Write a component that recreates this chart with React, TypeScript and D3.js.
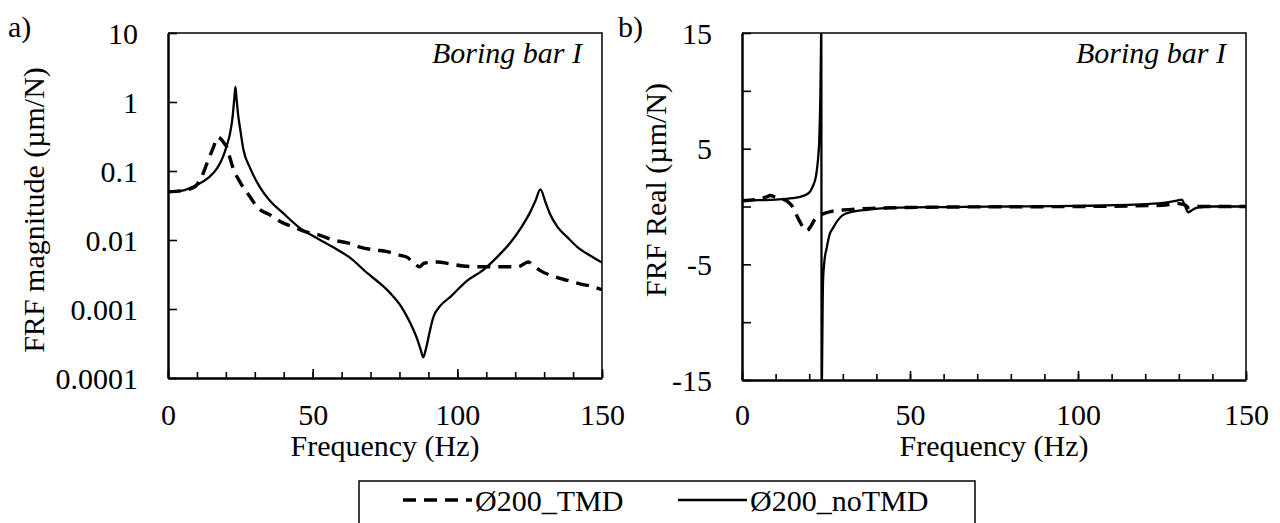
import React, { useEffect, useRef } from "react";
import * as d3 from "d3";

// a) FRF magnitude (µm/N)
const magTmdFreq = [0, 5, 9, 11.5, 13.5, 15.5, 17.3, 18.3, 19.5, 20.4, 21.5, 22.5, 25, 28.4, 30.8, 35.3, 39.4, 43.3, 48, 52.6, 57, 62, 66.4, 71, 75.8, 80.3, 82.7, 84.8, 87, 88.5, 93, 97.6, 102, 107, 111, 116, 121, 124.5, 126.5, 128.7, 133, 138, 142.6, 147, 150];
const magTmd = [0.05, 0.052, 0.058, 0.08, 0.13, 0.21, 0.31, 0.29, 0.25, 0.22, 0.15, 0.11, 0.068, 0.042, 0.03, 0.023, 0.018, 0.0155, 0.013, 0.0117, 0.01, 0.0091, 0.0079, 0.0072, 0.0068, 0.006, 0.0056, 0.0047, 0.0041, 0.0046, 0.0048, 0.0045, 0.0042, 0.0041, 0.0041, 0.0041, 0.0041, 0.0048, 0.0042, 0.0036, 0.003, 0.0026, 0.0023, 0.0021, 0.0019];

const magNoFreq = [0, 5, 10, 14, 17, 19, 20.4, 21.5, 22.3, 22.9, 23.3, 23.7, 24.3, 24.9, 26, 28.4, 31.8, 35, 39.8, 46, 50, 57, 63, 68.9, 73, 76.8, 80.5, 83.7, 86, 87.3, 88.2, 89.2, 90.5, 91.7, 94, 97.6, 103, 109, 114, 118.3, 122, 125, 127, 128.7, 130.5, 132, 134.6, 138, 141.5, 146, 150];
const magNo = [0.05, 0.052, 0.063, 0.08, 0.11, 0.16, 0.24, 0.36, 0.6, 1.1, 1.65, 1.1, 0.62, 0.42, 0.21, 0.11, 0.058, 0.038, 0.0245, 0.0145, 0.0115, 0.0079, 0.0055, 0.0033, 0.0024, 0.0017, 0.0011, 0.00063, 0.00038, 0.00026, 0.0002, 0.00027, 0.00048, 0.00076, 0.0011, 0.0015, 0.0025, 0.0037, 0.0058, 0.0091, 0.015, 0.0245, 0.037, 0.054, 0.035, 0.024, 0.0155, 0.011, 0.0079, 0.0059, 0.0047];

// b) FRF real part (µm/N)
const realTmdFreq = [0, 4, 7, 8.5, 10, 12, 13.5, 15, 16.5, 18, 19.3, 20.5, 21.7, 23, 24.5, 27, 30, 40, 60, 100, 125, 130, 132, 133, 135, 150];
const realTmd = [0.5, 0.6, 0.8, 0.95, 0.8, 0.65, 0.45, 0.0, -0.9, -1.7, -2.1, -1.7, -1.1, -0.8, -0.6, -0.4, -0.3, -0.15, -0.05, 0, 0.1, 0.25, 0.1, -0.1, 0, 0];

const realNoFreq = [0, 5, 10, 15, 18, 20, 21, 22, 22.6, 23, 23.3, 23.5, 23.6, 23.7, 24.1, 24.5, 25.2, 26, 27.2, 28.5, 30, 33, 37, 47, 60, 80, 100, 120, 126.5, 129.5, 130.9, 131.8, 132.8, 134, 135.5, 140, 150];
const realNo = [0.5, 0.55, 0.6, 0.72, 0.9, 1.2, 1.7, 2.6, 4.0, 5.8, 9.2, 13.5, 16, -16, -6.6, -4.8, -3.6, -2.5, -1.8, -1.2, -0.75, -0.45, -0.28, -0.1, -0.05, 0, 0.05, 0.2, 0.35, 0.5, 0.6, 0.1, -0.5, -0.3, -0.1, 0, 0];

const magTicks = [10, 1, 0.1, 0.01, 0.001, 0.0001];
const realTicks = [15, 5, -5, -15];
const freqTicks = [0, 50, 100, 150];
const seriesNames = ["Ø200_TMD", "Ø200_noTMD"];

const FONT = "Liberation Serif, DejaVu Serif, serif";
const FS = 30;
const DASH = "13,8";

export default function App() {
  const ref = useRef<SVGSVGElement>(null);

  useEffect(() => {
    const svg = d3.select(ref.current);
    svg.selectAll("*").remove();
    svg.style("font-family", FONT);

    const panel = (opts: any) => {
      const { id, x0, x1, y0, y1, y, yTicks, yMinor, yTitle, yTitleX, yTitleY, tmdF, tmdV, noF, noV, letter, letterX } = opts;
      const x = d3.scaleLinear().domain([0, 150]).range([x0, x1]);
      y.range([y1, y0]);

      svg.append("clipPath").attr("id", id).append("rect")
        .attr("x", x0).attr("y", y0).attr("width", x1 - x0).attr("height", y1 - y0);

      const line = (fs: number[], vs: number[]) =>
        d3.line<number>().x((d, i) => x(fs[i])).y((d) => y(d)).curve(d3.curveMonotoneX)(vs);

      const g = svg.append("g").attr("clip-path", `url(#${id})`);
      g.append("path").attr("d", line(tmdF, tmdV)).attr("fill", "none")
        .attr("stroke", "#000").attr("stroke-width", 3.4).attr("stroke-dasharray", DASH);
      g.append("path").attr("d", line(noF, noV)).attr("fill", "none")
        .attr("stroke", "#000").attr("stroke-width", 2.3);

      // top / right frame
      svg.append("path").attr("d", `M${x0},${y0}H${x1}V${y1}`).attr("fill", "none")
        .attr("stroke", "#000").attr("stroke-width", 1.5);

      // minor x ticks every 10 Hz, pointing inward
      svg.append("g").attr("transform", `translate(0,${y1})`)
        .call(d3.axisBottom(x).tickValues(d3.range(0, 151, 10)).tickSizeInner(-6).tickSizeOuter(0).tickFormat(() => ""))
        .call((a) => a.select(".domain").remove());
      const xa = svg.append("g").attr("transform", `translate(0,${y1})`)
        .call(d3.axisBottom(x).tickValues(freqTicks).tickSizeInner(-9).tickSizeOuter(0).tickPadding(425 - y1 - 21));

      if (yMinor) {
        svg.append("g").attr("transform", `translate(${x0},0)`)
          .call(d3.axisLeft(y).tickValues(yMinor).tickSizeInner(-9).tickSizeOuter(0).tickFormat(() => ""))
          .call((a) => a.select(".domain").remove());
      }
      const ya = svg.append("g").attr("transform", `translate(${x0},0)`)
        .call(d3.axisLeft(y).tickValues(yTicks).tickSizeInner(-9).tickSizeOuter(0).tickPadding(30).tickFormat((d: any) => String(d)));

      [xa, ya].forEach((a) => {
        a.attr("font-family", null).attr("font-size", FS);
        a.select(".domain").attr("stroke-width", 2.5);
        a.selectAll("text").attr("fill", "#000");
      });
      ya.selectAll("text").attr("dy", "0.34em");
      svg.selectAll(".tick line").attr("stroke-width", 1.6);

      svg.append("text").attr("x", (x0 + x1) / 2).attr("y", 456).attr("text-anchor", "middle")
        .attr("font-size", FS).text("Frequency (Hz)");
      svg.append("text").attr("transform", `translate(${yTitleX},${yTitleY}) rotate(-90)`)
        .attr("text-anchor", "middle").attr("font-size", FS).text(yTitle);
      svg.append("text").attr("x", x1 - 20).attr("y", 63).attr("text-anchor", "end")
        .attr("font-size", FS).attr("font-style", "italic").text("Boring bar I");
      svg.append("text").attr("x", letterX).attr("y", 37)
        .attr("font-size", FS).text(letter);
    };

    panel({
      id: "clipA", x0: 168, x1: 602, y0: 33, y1: 378,
      y: d3.scaleLog().domain([0.0001, 10]), yTicks: magTicks, yMinor: null,
      yTitle: "FRF magnitude (µm/N)", yTitleX: 44, yTitleY: 210,
      tmdF: magTmdFreq, tmdV: magTmd, noF: magNoFreq, noV: magNo, letter: "a)", letterX: 8,
    });
    panel({
      id: "clipB", x0: 742, x1: 1246, y0: 33, y1: 380,
      y: d3.scaleLinear().domain([-15, 15]), yTicks: realTicks, yMinor: [10, 0, -10],
      yTitle: "FRF Real (µm/N)", yTitleX: 666, yTitleY: 190,
      tmdF: realTmdFreq, tmdV: realTmd, noF: realNoFreq, noV: realNo, letter: "b)", letterX: 618,
    });

    // legend
    const lg = svg.append("g");
    lg.append("rect").attr("x", 359).attr("y", 481).attr("width", 616).attr("height", 70)
      .attr("fill", "#fff").attr("stroke", "#000").attr("stroke-width", 1.5);
    const items = [
      { name: seriesNames[0], lx: 403, dash: DASH, w: 3.4 },
      { name: seriesNames[1], lx: 678, dash: null, w: 2.3 },
    ];
    items.forEach((it) => {
      lg.append("line").attr("x1", it.lx).attr("x2", it.lx + 69).attr("y1", 500).attr("y2", 500)
        .attr("stroke", "#000").attr("stroke-width", it.w).attr("stroke-dasharray", it.dash);
      lg.append("text").attr("x", it.lx + 72).attr("y", 511)
        .attr("font-size", FS).text(it.name);
    });
  }, []);

  return (
    <svg ref={ref} width={1280} height={523}
      style={{ position: "absolute", left: 0, top: 0, background: "#fff" }} />
  );
}
